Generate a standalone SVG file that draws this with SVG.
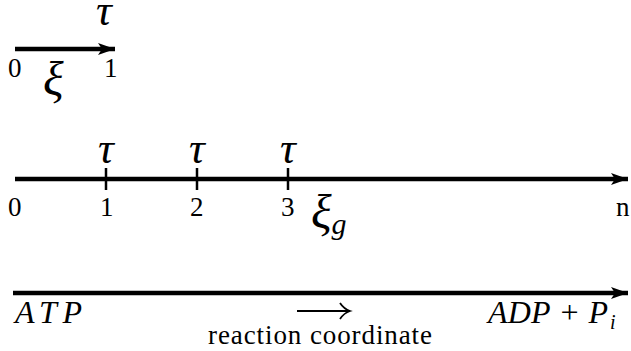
<svg xmlns="http://www.w3.org/2000/svg" width="631" height="351" viewBox="0 0 631 351">
<style>
.ax{stroke:#000;stroke-width:4.6;fill:none}
.tk{stroke:#000;stroke-width:2.5}
</style>
<defs>
<marker id="ah" markerUnits="userSpaceOnUse" markerWidth="20" markerHeight="14" refX="17" refY="7" orient="auto">
<path d="M0,1 L17,7 L0,13 L4,7 Z" fill="#000"/>
</marker>
</defs>
<g id="connectors">
<line id="top-arrow" class="ax" x1="15" y1="49" x2="115" y2="49" marker-end="url(#ah)"/>
<line id="mid-axis" class="ax" x1="15" y1="179" x2="628" y2="179" marker-end="url(#ah)"/>
<line id="bottom-axis" class="ax" x1="13" y1="293" x2="628" y2="293" marker-end="url(#ah)"/>
<line class="tk" x1="106" y1="168" x2="106" y2="190"/>
<line class="tk" x1="197" y1="168" x2="197" y2="190"/>
<line class="tk" x1="288" y1="168" x2="288" y2="190"/>
<path id="rc-arrow" d="M297,311 L348,311 M340,303 Q344,309 350,311 Q344,313 340,319" stroke="#000" stroke-width="1.8" fill="none"/>
</g>
<g id="top" font-family="Liberation Serif, Times New Roman, serif">
<text x="96" y="25" font-size="44" font-style="italic">τ</text>
<text x="8" y="77" font-size="27">0</text>
<text x="104" y="77" font-size="27">1</text>
<text x="43" y="95" font-size="48" font-style="italic">ξ</text>
</g>
<g id="middle" font-family="Liberation Serif, Times New Roman, serif">
<text x="98" y="163" font-size="44" font-style="italic">τ</text>
<text x="189" y="163" font-size="44" font-style="italic">τ</text>
<text x="280" y="163" font-size="44" font-style="italic">τ</text>
<text x="8" y="216" font-size="27">0</text>
<text x="100" y="216" font-size="27">1</text>
<text x="190" y="216" font-size="27">2</text>
<text x="281" y="216" font-size="27">3</text>
<text x="616" y="216" font-size="27">n</text>
<text x="311" y="228" font-size="48" font-style="italic">ξ<tspan font-size="30" dy="6">g</tspan></text>
</g>
<g id="bottom" font-family="Liberation Serif, Times New Roman, serif">
<text x="15" y="323" font-size="32" font-style="italic" textLength="67">ATP</text>
<text x="488" y="323" font-size="32" font-style="italic" textLength="120">ADP + P</text>
<text x="610" y="329" font-size="20" font-style="italic">i</text>
<text x="208" y="344" font-size="27" textLength="224">reaction coordinate</text>
</g>
</svg>
